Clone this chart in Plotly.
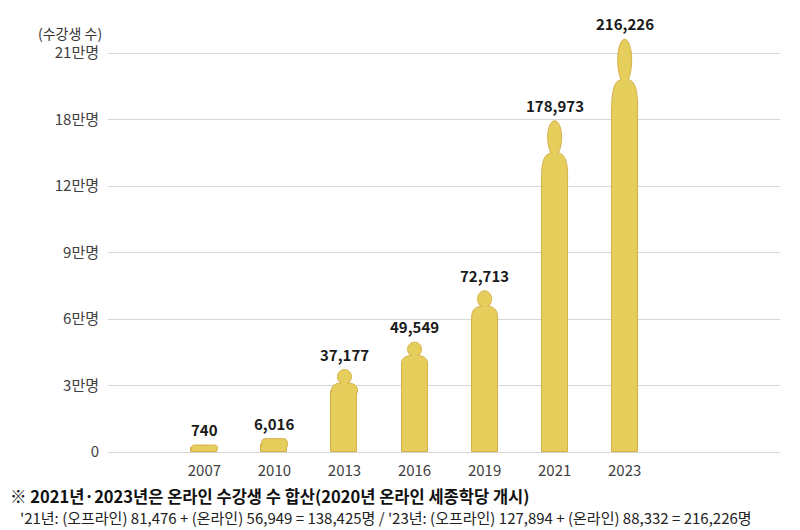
import numpy as np
import plotly.graph_objects as go

years = ['2007', '2010', '2013', '2016', '2019', '2021', '2023']
students = [740, 6016, 37177, 49549, 72713, 178973, 216226]

tick_students = [0, 30000, 60000, 90000, 120000, 180000, 210000]
tick_labels = ['0', '3만명', '6만명', '9만명', '12만명', '18만명', '21만명']

y_title = '(수강생 수)'
note_1 = '※ 2021년·2023년은 온라인 수강생 수 합산(2020년 온라인 세종학당 개시)'
note_2 = "'21년: (오프라인) 81,476 + (온라인) 56,949 = 138,425명 / '23년: (오프라인) 127,894 + (온라인) 88,332 = 216,226명"

FILL = '#E6CE5C'
EDGE = '#D6B04A'
FONT = 'Noto Sans CJK KR, Noto Sans, sans-serif'

# the gridlines are evenly spaced although the labels jump 12만 -> 18만
grid_pos = [i * 30000 for i in range(len(tick_students))]


def to_axis(v):
    v = np.atleast_1d(np.asarray(v, dtype=float))
    out = np.interp(v, tick_students, grid_pos)
    over = v > tick_students[-1]
    out[over] = grid_pos[-1] + (v[over] - tick_students[-1])
    return out


# page has an 8px body margin, so the figure is 8px smaller each way
W, H = 792, 522
ml, mr, mt, mb = 100, 20, 12, 78
plot_w = W - ml - mr
plot_h = H - mt - mb
PLOT_LEFT, PLOT_BOTTOM = ml + 8, mt + 8 + plot_h
x_range = [-1.376, 8.217]
y_max = 194900
px_x = plot_w / (x_range[1] - x_range[0])
px_y = plot_h / y_max

BODY_W = 26
HEAD_W = 14
K = 0.5523


def person(cx, top):
    # body height (px) and the svg path of shoulders + head
    def p(dx, y):
        return f'{cx + dx / px_x:.4f},{y / px_y:.1f}'

    hw = BODY_W / 2
    if top < 30:
        ys = top * 0.55
        cap = hw * 0.55
        d = (f'M{p(-hw, ys - 2)} L{p(-hw, ys)} '
             f'C{p(-hw, top)} {p(-cap - 4, top)} {p(-cap, top)} '
             f'L{p(cap, top)} '
             f'C{p(cap + 4, top)} {p(hw, top)} {p(hw, ys)} '
             f'L{p(hw, ys - 2)}')
        return ys, d

    head_h = max(14, 0.1 * top)
    rx, ry = HEAD_W / 2, head_h / 2
    neck = top - head_h
    nh = 3
    sh = max(7, 0.07 * top)
    ys = neck - sh
    hy = neck + ry
    mid = nh + 0.5 * (hw - nh)
    kx = max(K * rx, nh + 1)
    d = (f'M{p(-hw, ys - 2)} L{p(-hw, ys)} '
         f'C{p(-hw, ys + 0.9 * sh)} {p(-mid, neck)} {p(-nh, neck + 1)} '
         f'C{p(-kx, neck)} {p(-rx, hy - K * ry)} {p(-rx, hy)} '
         f'C{p(-rx, hy + K * ry)} {p(-K * rx, top)} {p(0, top)} '
         f'C{p(K * rx, top)} {p(rx, hy + K * ry)} {p(rx, hy)} '
         f'C{p(rx, hy - K * ry)} {p(kx, neck)} {p(nh, neck + 1)} '
         f'C{p(mid, neck)} {p(hw, ys + 0.9 * sh)} {p(hw, ys)} '
         f'L{p(hw, ys - 2)}')
    return ys, d


xs = list(range(len(years)))
tops = np.maximum(to_axis(students) * px_y, 7)

body = []
shapes = []
for cx, top in zip(xs, tops):
    ys, path = person(cx, top)
    body.append(ys / px_y)
    shapes.append(dict(type='path', path=path, xref='x', yref='y',
                       fillcolor=FILL, line=dict(color=EDGE, width=1),
                       layer='above'))

fig = go.Figure()
fig.add_trace(go.Bar(
    x=xs, y=body, width=BODY_W / px_x,
    marker=dict(color=FILL, line=dict(color=EDGE, width=1)),
    hoverinfo='skip', showlegend=False,
))


def page_x(px):
    return (px - PLOT_LEFT) / plot_w


def page_y(py):
    return (PLOT_BOTTOM - py) / plot_h


annotations = []
for cx, top, v in zip(xs, tops, students):
    annotations.append(dict(x=cx, y=top / px_y, xref='x', yref='y',
                            text=f'<b>{v:,}</b>', showarrow=False,
                            yanchor='bottom', yshift=3,
                            font=dict(family=FONT, size=15, color='#1a1a1a')))

annotations.append(dict(x=page_x(70), y=page_y(33), xref='paper', yref='paper',
                        xanchor='center', yanchor='middle', text=y_title,
                        showarrow=False,
                        font=dict(family=FONT, size=14, color='#333333')))
annotations.append(dict(x=page_x(9), y=page_y(496), xref='paper', yref='paper',
                        xanchor='left', yanchor='middle', borderpad=0,
                        text=f'<b>{note_1}</b>', showarrow=False,
                        font=dict(family=FONT, size=16.5, color='#111111')))
annotations.append(dict(x=page_x(19), y=page_y(518), xref='paper', yref='paper',
                        xanchor='left', yanchor='middle', borderpad=0,
                        text=note_2, showarrow=False,
                        font=dict(family=FONT, size=15, color='#222222')))

fig.update_layout(
    width=W, height=H,
    margin=dict(l=ml, r=mr, t=mt, b=mb),
    plot_bgcolor='white', paper_bgcolor='white',
    shapes=shapes, annotations=annotations,
    bargap=0,
    xaxis=dict(range=x_range, tickvals=xs, ticktext=years,
               showgrid=False, zeroline=False, showline=False,
               ticklabelstandoff=8,
               tickfont=dict(family=FONT, size=15, color='#404040')),
    yaxis=dict(range=[0, y_max], tickvals=to_axis(tick_students),
               ticktext=tick_labels, showgrid=True, gridcolor='#d6d6d6',
               gridwidth=1, zeroline=True, zerolinecolor='#d6d6d6',
               zerolinewidth=1, showline=False, ticklabelstandoff=8,
               tickfont=dict(family=FONT, size=15, color='#404040')),
)

fig.write_html('out.html')
